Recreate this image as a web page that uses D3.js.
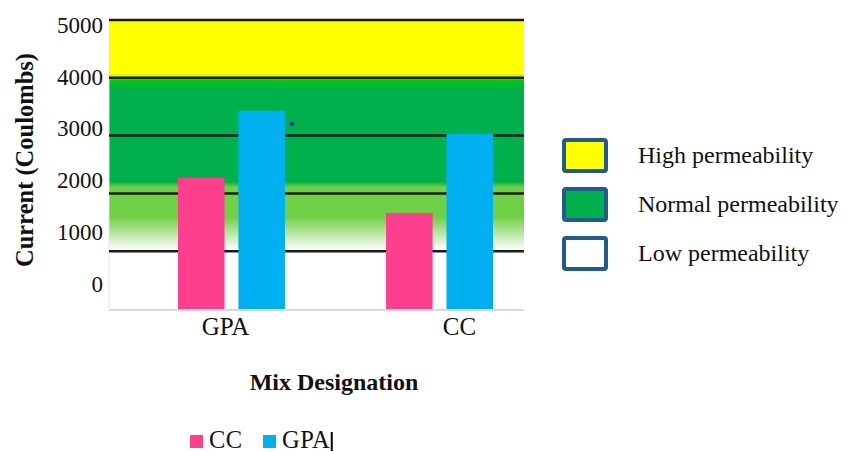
<!DOCTYPE html>
<html lang="en">
<head>
<meta charset="UTF-8">
<title>Current (Coulombs) by Mix Designation</title>
<style>
  body { margin: 0; background: #fff; }
  text { font-family: "Liberation Serif", "Times New Roman", serif; fill: #111; }
</style>
</head>
<body>
<svg id="chart"></svg>
<script src="https://d3js.org/d3.v7.min.js"></script>
<script>
const groups = ['GPA', 'CC'];
const series = ['CC', 'GPA'];
const ccValues = [2270, 1660];
const gpaValues = [3430, 3030];
const yTicks = [0, 1000, 2000, 3000, 4000, 5000];
const zones = ['High permeability', 'Normal permeability', 'Low permeability'];
const zoneColors = ['#ffff00', '#00b04c', '#ffffff'];
// background gradient stops (value, colour)
const bgStops = [
  [5000, '#ffff00'], [4080, '#ffff00'], [4000, '#b8e800'], [3960, '#00cc00'],
  [3820, '#00b04c'], [2200, '#00b04c'], [2110, '#6fcf45'], [1600, '#6fcf45'], [1020, '#ffffff']
];
const markerValue = 3200;

const width = 842, height = 452;
const plot = { left: 109, right: 524, top: 20, bottom: 309 };

const svg = d3.select('#chart').attr('width', width).attr('height', height);

const y = d3.scaleLinear().domain([0, 5000]).range([plot.bottom, plot.top]);
// tick labels in the source sit slightly off the grid lines
const yLabel = d3.scaleLinear().domain([0, 5000]).range([284, 25]);
const x0 = d3.scaleBand().domain(groups).range([178, 493]).paddingInner(0.486);
const x1 = d3.scaleBand().domain(series).range([0, x0.bandwidth()]).paddingInner(0.23);
const xLabel = d3.scalePoint().domain(groups).range([225, 459]);
const color = d3.scaleOrdinal().domain(series).range(['#fe3f8d', '#00b0f0']);

// background gradient
const grad = svg.append('defs').append('linearGradient')
  .attr('id', 'bg').attr('gradientUnits', 'userSpaceOnUse')
  .attr('x1', 0).attr('x2', 0).attr('y1', plot.top).attr('y2', plot.bottom);
grad.selectAll('stop').data(bgStops).enter().append('stop')
  .attr('offset', d => (y(d[0]) - plot.top) / (plot.bottom - plot.top))
  .attr('stop-color', d => d[1]);

svg.append('rect')
  .attr('x', plot.left).attr('y', plot.top)
  .attr('width', plot.right - plot.left).attr('height', plot.bottom - plot.top)
  .attr('fill', 'url(#bg)');

svg.append('line')
  .attr('x1', plot.left).attr('x2', plot.left).attr('y1', plot.top).attr('y2', plot.bottom)
  .attr('stroke', '#e4e4e4').attr('stroke-width', 1);

// grid lines
svg.append('g').selectAll('line').data(yTicks.filter(d => d > 0)).enter().append('line')
  .attr('x1', plot.left).attr('x2', plot.right)
  .attr('y1', d => y(d)).attr('y2', d => y(d))
  .attr('stroke', '#1c1c1c').attr('stroke-width', 2.5);

svg.append('line')
  .attr('x1', plot.left).attr('x2', plot.right).attr('y1', y(0) + 1).attr('y2', y(0) + 1)
  .attr('stroke', '#d9d9d9').attr('stroke-width', 2);

// bars
const rows = groups.map((g, i) => ({ group: g, values: [ccValues[i], gpaValues[i]] }));
svg.append('g').selectAll('g').data(rows).enter().append('g')
  .attr('transform', d => `translate(${x0(d.group)},0)`)
  .selectAll('rect').data(d => series.map((s, j) => ({ key: s, value: d.values[j] })))
  .enter().append('rect')
  .attr('x', d => x1(d.key))
  .attr('y', d => y(d.value))
  .attr('width', x1.bandwidth())
  .attr('height', d => y(0) - y(d.value))
  .attr('fill', d => color(d.key));

// small marker next to the GPA bar
svg.append('circle')
  .attr('cx', x0('GPA') + x0.bandwidth() + 7)
  .attr('cy', y(markerValue))
  .attr('r', 2.2)
  .attr('fill', '#1a2ae0');

// y axis labels
const yAxis = svg.append('g')
  .attr('transform', `translate(${plot.left - 6},0)`)
  .call(d3.axisLeft(yLabel).tickValues(yTicks).tickSize(0).tickPadding(0).tickFormat(d3.format('d')));
yAxis.select('.domain').remove();
yAxis.selectAll('text')
  .style('font-family', '"Liberation Serif", serif').style('font-size', '23px').attr('fill', '#111');

// x axis labels
const xAxis = svg.append('g')
  .attr('transform', `translate(0,${plot.bottom + 3})`)
  .call(d3.axisBottom(xLabel).tickSize(0).tickPadding(4));
xAxis.select('.domain').remove();
xAxis.selectAll('text')
  .style('font-family', '"Liberation Serif", serif').style('font-size', '25px').attr('fill', '#111')
  .attr('dy', '0.75em');

// axis titles
svg.append('text')
  .attr('transform', `translate(33,160) rotate(-90)`)
  .attr('text-anchor', 'middle')
  .style('font-size', '24.5px').style('font-weight', 'bold')
  .text('Current (Coulombs)');

svg.append('text')
  .attr('x', 334).attr('y', 390)
  .attr('text-anchor', 'middle')
  .style('font-size', '24px').style('font-weight', 'bold')
  .text('Mix Designation');

// zone legend
const zl = svg.append('g').selectAll('g').data(zones).enter().append('g')
  .attr('transform', (d, i) => `translate(564,${140 + i * 49})`);
zl.append('rect')
  .attr('width', 42).attr('height', 31).attr('rx', 2)
  .attr('fill', (d, i) => zoneColors[i])
  .attr('stroke', '#1f5b8c').attr('stroke-width', 4);
zl.append('text')
  .attr('x', 74).attr('y', 23)
  .style('font-size', '24px')
  .text(d => d);

// series legend
const sl = svg.append('g').attr('transform', 'translate(190,435)');
const si = sl.selectAll('g').data(series).enter().append('g')
  .attr('transform', (d, i) => `translate(${i * 73},0)`);
si.append('rect').attr('width', 13).attr('height', 13).attr('fill', d => color(d));
const lastLabel = si.append('text').attr('x', 19).attr('y', 13)
  .style('font-size', '24.5px').style('letter-spacing', '0.5px').text(d => d)
  .filter((d, i) => i === series.length - 1).node();
// text cursor after the last legend entry, as in the source image
const cursorX = (series.length - 1) * 73 + 19 + lastLabel.getComputedTextLength() + 1.5;
sl.append('line')
  .attr('x1', cursorX).attr('x2', cursorX).attr('y1', -3).attr('y2', 16)
  .attr('stroke', '#000').attr('stroke-width', 2);
</script>
</body>
</html>
